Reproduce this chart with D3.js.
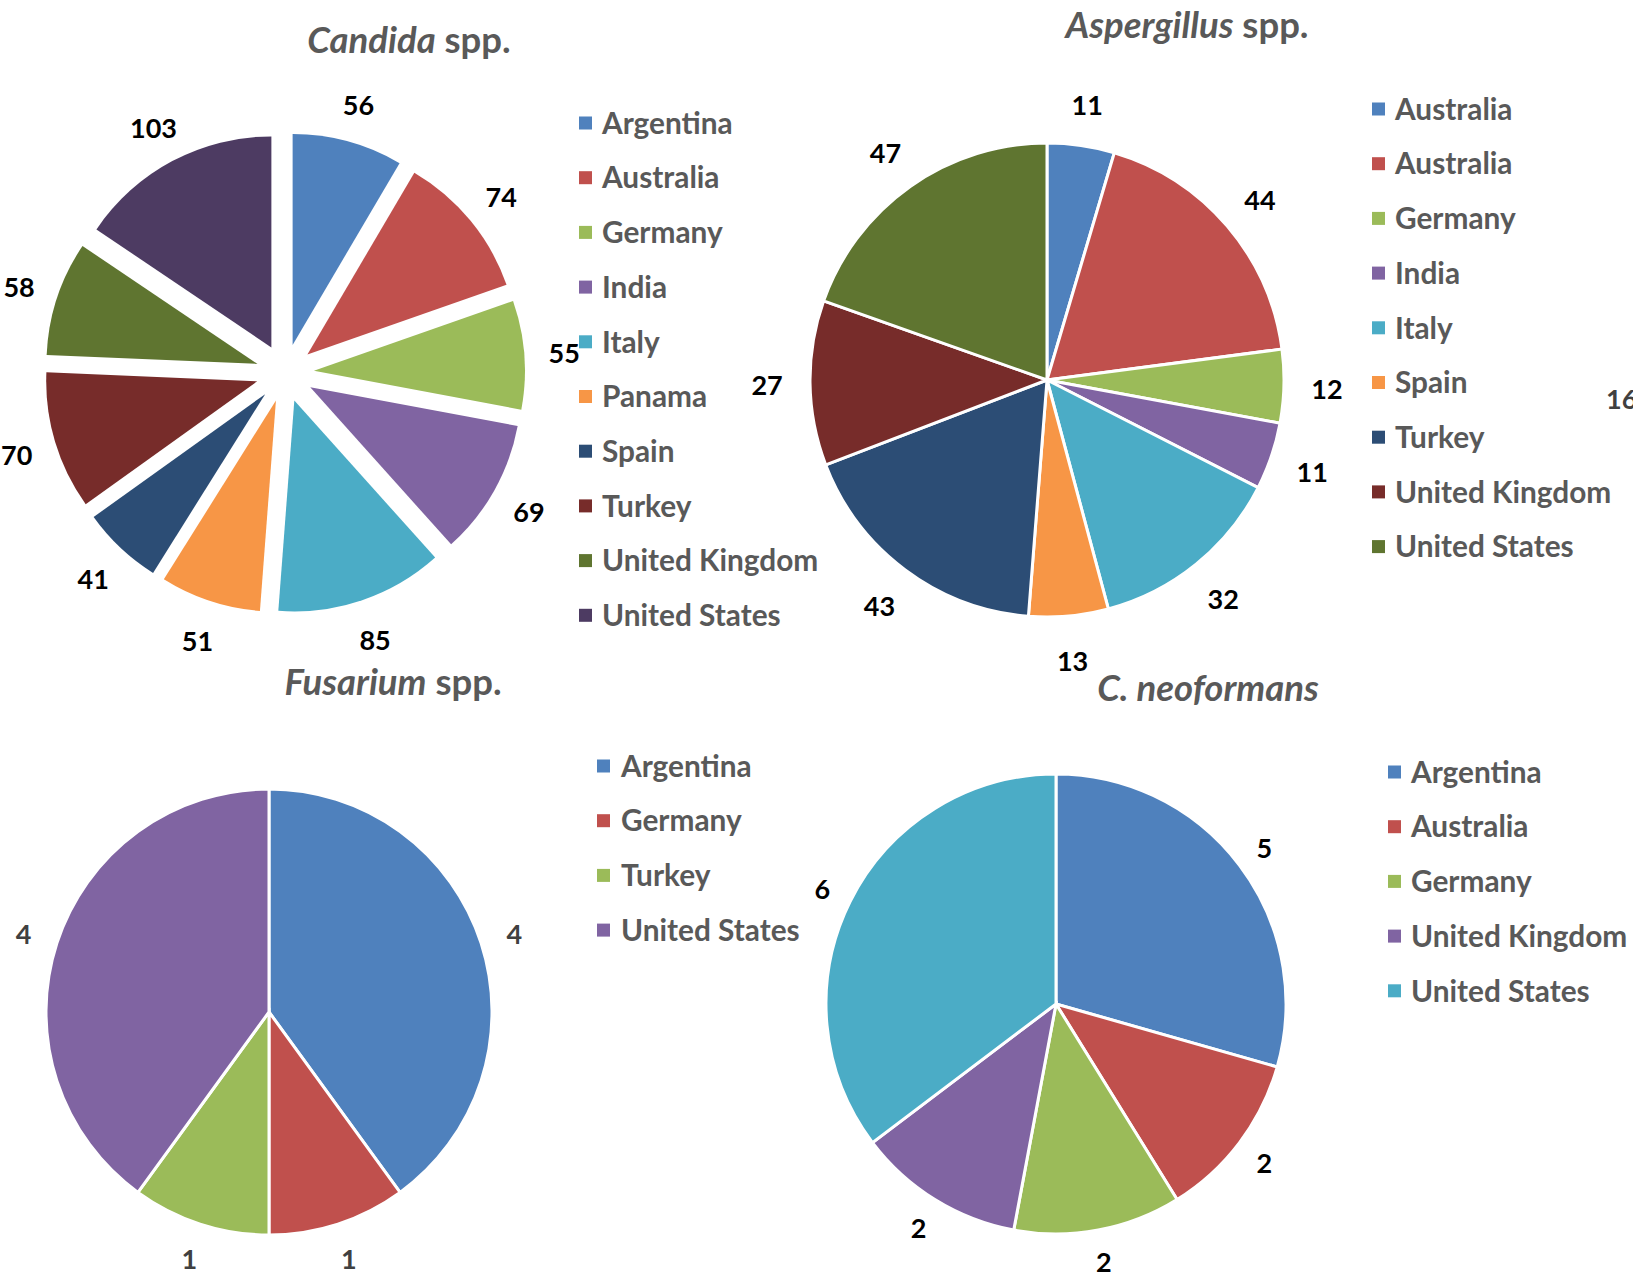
<!DOCTYPE html>
<html>
<head>
<meta charset="utf-8">
<script src="https://cdn.jsdelivr.net/npm/d3@7"></script>
<style>
  body { margin: 0; background: #fff; }
  svg text { font-family: Lato, "Open Sans", sans-serif; font-weight: bold; }
</style>
</head>
<body>
<svg id="chart" width="1633" height="1274"></svg>
<script>
// excel 2007 default palette
var palette = ["#4F81BD", "#C0504D", "#9BBB59", "#8064A2", "#4BACC6",
               "#F79646", "#2C4D75", "#772C2A", "#5F7530", "#4D3B62"];

var candidaCountries = ["Argentina", "Australia", "Germany", "India", "Italy",
                        "Panama", "Spain", "Turkey", "United Kingdom", "United States"];
var candidaValues = [56, 74, 55, 69, 85, 51, 41, 70, 58, 103];

var aspergillusCountries = ["Australia", "Australia", "Germany", "India", "Italy",
                            "Spain", "Turkey", "United Kingdom", "United States"];
var aspergillusValues = [11, 44, 12, 11, 32, 13, 43, 27, 47];

var fusariumCountries = ["Argentina", "Germany", "Turkey", "United States"];
var fusariumValues = [4, 1, 1, 4];

var neoCountries = ["Argentina", "Australia", "Germany", "United Kingdom", "United States"];
var neoValues = [5, 2, 2, 2, 6];

var svg = d3.select("#chart");

var charts = [
  { italic: "Candida", rest: " spp.", names: candidaCountries, values: candidaValues,
    cx: 285, cy: 373, r: 211, explode: 29, labelR: 280, labelColor: "#000",
    title: [409, 40], legend: [579, 602, 123] },
  { italic: "Aspergillus", rest: " spp.", names: aspergillusCountries, values: aspergillusValues,
    cx: 1047, cy: 380, r: 237, explode: 0, labelR: 280, labelColor: "#000",
    title: [1187, 25], legend: [1372, 1395, 109] },
  { italic: "Fusarium", rest: " spp.", names: fusariumCountries, values: fusariumValues,
    cx: 269, cy: 1012, r: 223, explode: 0, labelR: 258, labelColor: "#404040",
    title: [393, 682], legend: [597, 621, 766] },
  { italic: "C. neoformans", rest: "", names: neoCountries, values: neoValues,
    cx: 1056, cy: 1004, r: 230, explode: 0, labelR: 261, labelColor: "#000",
    title: [1208, 688], legend: [1388, 1411, 772] }
];

var pie = d3.pie().sort(null).value(function(d) { return d; });

charts.forEach(function(c) {
  var arcs = pie(c.values);
  var arc = d3.arc().innerRadius(0).outerRadius(c.r);
  var mid = function(d) { return (d.startAngle + d.endAngle) / 2; };

  var g = svg.append("g")
      .attr("transform", "translate(" + c.cx + "," + c.cy + ")");

  g.selectAll("path")
      .data(arcs)
    .enter().append("path")
      .attr("d", arc)
      .attr("fill", function(d, i) { return palette[i]; })
      .attr("stroke", "#fff")
      .attr("stroke-width", c.explode ? 0 : 3)
      .attr("transform", function(d) {
        var a = mid(d);
        return "translate(" + (c.explode * Math.sin(a)) + "," + (-c.explode * Math.cos(a)) + ")";
      });

  g.selectAll("text.val")
      .data(arcs)
    .enter().append("text")
      .attr("class", "val")
      .attr("x", function(d) { return c.labelR * Math.sin(mid(d)); })
      .attr("y", function(d) { return -c.labelR * Math.cos(mid(d)) + 2; })
      .attr("dy", "0.36em")
      .attr("text-anchor", "middle")
      .attr("fill", c.labelColor)
      .style("font-size", "27px")
      .text(function(d) { return d.data; });

  var t = svg.append("text")
      .attr("x", c.title[0])
      .attr("y", c.title[1])
      .attr("dy", "0.36em")
      .attr("text-anchor", "middle")
      .attr("fill", "#595959")
      .style("font-size", "36.5px");
  t.append("tspan").style("font-style", "italic").text(c.italic);
  if (c.rest) t.append("tspan").text(c.rest);

  var step = 54.7;
  var leg = svg.append("g");
  leg.selectAll("rect")
      .data(c.names)
    .enter().append("rect")
      .attr("x", c.legend[0])
      .attr("y", function(d, i) { return c.legend[2] + i * step - 6.5; })
      .attr("width", 13)
      .attr("height", 13)
      .attr("fill", function(d, i) { return palette[i]; });
  leg.selectAll("text")
      .data(c.names)
    .enter().append("text")
      .attr("x", c.legend[1])
      .attr("y", function(d, i) { return c.legend[2] + i * step; })
      .attr("dy", "0.36em")
      .attr("fill", "#595959")
      .style("font-size", "29.8px")
      .text(function(d) { return d; });
});

// stray label cut off at the right edge
svg.append("text")
    .attr("x", 1606)
    .attr("y", 399)
    .attr("dy", "0.36em")
    .attr("fill", "#404040")
    .style("font-size", "27px")
    .text("16");
</script>
</body>
</html>
